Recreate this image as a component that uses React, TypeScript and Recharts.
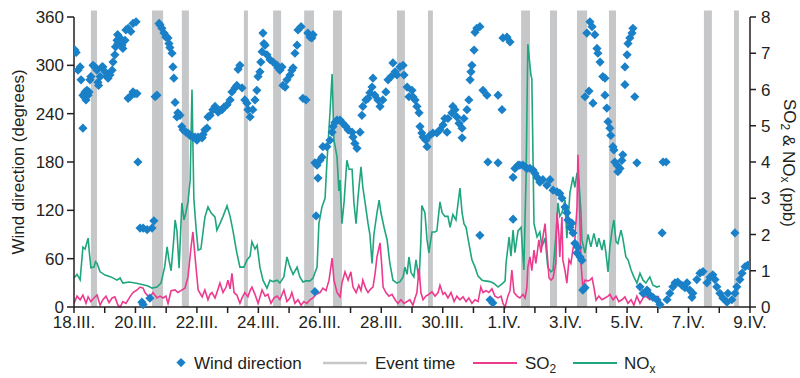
import React from 'react';
import { ComposedChart, Line, Scatter, XAxis, YAxis, ReferenceArea } from 'recharts';

// time axis: days since 18.III. 00:00
const dayTicks = [0, 1, 2, 3, 4, 5, 6, 7, 8, 9, 10, 11, 12, 13, 14, 15, 16, 17, 18, 19, 20, 21, 22];
const dayLabels = [
  '18.III.', '', '20.III.', '', '22.III.', '', '24.III.', '', '26.III.', '', '28.III.', '',
  '30.III.', '', '1.IV.', '', '3.IV.', '', '5.IV.', '', '7.IV.', '', '9.IV.',
];
const windTicks = [0, 60, 120, 180, 240, 300, 360];
const ppbTicks = [0, 1, 2, 3, 4, 5, 6, 7, 8];

// event time windows [start, end] in days
const eventTimes: [number, number][] = [
  [0.55, 0.75], [2.54, 2.9], [3.51, 3.74], [5.53, 5.66], [6.48, 6.74], [7.49, 7.81],
  [8.43, 8.72], [10.51, 10.77], [11.52, 11.68], [14.55, 14.84], [15.49, 15.72],
  [16.37, 16.7], [17.41, 17.64], [20.5, 20.76], [21.48, 21.64],
];

// wind direction [day, degrees]
const windDirection: [number, number][] = [
  [0.03, 319], [0.07, 316], [0.13, 294], [0.2, 298], [0.23, 282], [0.29, 263], [0.29, 222], [0.33, 261],
  [0.36, 267], [0.39, 257], [0.42, 269], [0.46, 263], [0.49, 267], [0.52, 282], [0.55, 286], [0.62, 300],
  [0.68, 298], [0.75, 294], [0.78, 279], [0.8, 275], [0.85, 286], [0.91, 298], [0.94, 298], [1.01, 292],
  [1.07, 286], [1.11, 284], [1.17, 288], [1.24, 294], [1.27, 304], [1.33, 313], [1.35, 323], [1.4, 331],
  [1.42, 338], [1.43, 327], [1.5, 334], [1.56, 325], [1.59, 321], [1.66, 331], [1.69, 344], [1.76, 346],
  [1.76, 259], [1.82, 261], [1.85, 342], [1.92, 352], [1.92, 267], [1.98, 265], [2.02, 354], [2.05, 265],
  [2.08, 180], [2.15, 98], [2.21, 6], [2.25, 98], [2.25, 3], [2.38, 96], [2.47, 11], [2.54, 98],
  [2.6, 107], [2.64, 261], [2.7, 263], [2.77, 352], [2.8, 350], [2.86, 346], [2.93, 340], [2.99, 335],
  [3.06, 334], [3.09, 327], [3.12, 322], [3.19, 315], [3.22, 298], [3.25, 284], [3.29, 254], [3.35, 236],
  [3.38, 241], [3.45, 238], [3.51, 224], [3.55, 220], [3.64, 217], [3.71, 216], [3.77, 213], [3.87, 211],
  [3.94, 211], [4.0, 207], [4.04, 211], [4.17, 210], [4.2, 214], [4.26, 220], [4.33, 222], [4.36, 236],
  [4.43, 238], [4.52, 245], [4.59, 249], [4.69, 242], [4.75, 244], [4.82, 245], [4.88, 248], [4.98, 251],
  [5.08, 257], [5.14, 267], [5.24, 272], [5.3, 275], [5.34, 295], [5.4, 300], [5.47, 272], [5.56, 257],
  [5.63, 253], [5.66, 245], [5.73, 236], [5.82, 245], [5.89, 257], [5.95, 269], [5.99, 286], [6.05, 292],
  [6.08, 304], [6.12, 317], [6.15, 340], [6.18, 327], [6.22, 325], [6.28, 313], [6.38, 307], [6.48, 304],
  [6.61, 300], [6.64, 297], [6.7, 294], [6.77, 298], [6.8, 275], [6.87, 273], [6.93, 282], [7.03, 288],
  [7.09, 294], [7.13, 297], [7.19, 315], [7.26, 325], [7.29, 344], [7.39, 348], [7.45, 259], [7.55, 257],
  [7.61, 340], [7.68, 335], [7.74, 334], [7.78, 338], [7.84, 179], [7.84, 19], [7.88, 113], [7.91, 176],
  [7.94, 160], [8.0, 182], [8.07, 186], [8.1, 199], [8.23, 199], [8.33, 207], [8.4, 217], [8.43, 224],
  [8.49, 229], [8.56, 232], [8.66, 232], [8.75, 228], [8.85, 224], [8.92, 220], [9.05, 217], [9.08, 211],
  [9.14, 203], [9.21, 197], [9.31, 217], [9.37, 238], [9.4, 249], [9.5, 257], [9.57, 259], [9.63, 266],
  [9.7, 273], [9.73, 284], [9.79, 263], [9.89, 257], [9.96, 249], [10.05, 257], [10.15, 267], [10.22, 282],
  [10.32, 286], [10.38, 303], [10.45, 292], [10.51, 288], [10.61, 298], [10.71, 300], [10.74, 288], [10.84, 273],
  [10.9, 261], [11.0, 269], [11.03, 261], [11.1, 257], [11.16, 249], [11.23, 241], [11.26, 224], [11.32, 216],
  [11.36, 211], [11.45, 207], [11.49, 199], [11.58, 213], [11.68, 216], [11.81, 216], [11.91, 220], [12.01, 226],
  [12.07, 234], [12.14, 217], [12.17, 234], [12.3, 241], [12.33, 249], [12.4, 245], [12.46, 236], [12.53, 228],
  [12.63, 222], [12.63, 210], [12.69, 234], [12.79, 245], [12.85, 257], [12.89, 282], [12.92, 292], [12.95, 300],
  [13.02, 319], [13.05, 341], [13.11, 346], [13.21, 348], [13.21, 89], [13.31, 269], [13.44, 263], [13.47, 180],
  [13.54, 9], [13.63, 5], [13.8, 263], [13.8, 179], [13.93, 245], [13.96, 334], [14.09, 335], [14.19, 329],
  [14.29, 109], [14.29, 161], [14.35, 172], [14.45, 176], [14.51, 176], [14.61, 176], [14.68, 174], [14.74, 172],
  [14.84, 172], [14.94, 170], [15.0, 166], [15.07, 161], [15.16, 155], [15.26, 158], [15.39, 151], [15.49, 158],
  [15.59, 145], [15.72, 143], [15.81, 141], [15.88, 135], [15.98, 124], [16.04, 117], [16.07, 108], [16.14, 99],
  [16.2, 104], [16.24, 92], [16.3, 79], [16.37, 67], [16.4, 74], [16.47, 62], [16.53, 58], [16.56, 21],
  [16.63, 24], [16.63, 261], [16.69, 340], [16.76, 268], [16.79, 354], [16.86, 348], [16.89, 253], [16.95, 338],
  [17.02, 321], [17.05, 315], [17.12, 304], [17.21, 286], [17.28, 284], [17.28, 263], [17.34, 247], [17.38, 230],
  [17.44, 222], [17.47, 213], [17.54, 199], [17.57, 195], [17.6, 180], [17.67, 176], [17.7, 168], [17.77, 172],
  [17.83, 182], [17.86, 189], [17.93, 298], [17.93, 276], [18.0, 313], [18.03, 327], [18.09, 334], [18.16, 340],
  [18.19, 346], [18.25, 261], [18.32, 179], [18.42, 25], [18.52, 17], [18.65, 21], [18.74, 15], [18.84, 12],
  [18.97, 9], [19.07, 3], [19.14, 92], [19.17, 180], [19.27, 180], [19.3, 9], [19.39, 17], [19.49, 25],
  [19.56, 30], [19.65, 31], [19.78, 27], [19.88, 24], [19.95, 30], [20.04, 21], [20.11, 12], [20.14, 17],
  [20.27, 34], [20.37, 42], [20.47, 44], [20.6, 30], [20.7, 37], [20.79, 40], [20.86, 34], [20.92, 25],
  [21.02, 17], [21.12, 11], [21.25, 6], [21.28, 17], [21.41, 9], [21.51, 17], [21.51, 92], [21.57, 25],
  [21.67, 34], [21.74, 42], [21.84, 50], [21.93, 52], [22.0, 50],
];

// SO2 [day, ppb]
const so2: [number, number][] = [
  [0, 0.1], [0.1, 0.3], [0.2, 0.2], [0.29, 0.33], [0.39, 0.1], [0.46, 0.28], [0.55, 0.15], [0.65, 0.25],
  [0.75, 0.33], [0.85, 0.05], [0.94, 0.2], [1.04, 0.3], [1.14, 0.12], [1.24, 0.25], [1.33, 0.28], [1.43, 0.05],
  [1.5, 0.0], [1.59, 0.15], [1.69, 0.1], [1.82, 0.28], [1.92, 0.4], [2.05, 0.47], [2.15, 0.55], [2.25, 0.52],
  [2.31, 0.4], [2.38, 0.33], [2.47, 0.28], [2.57, 0.4], [2.7, 0.25], [2.8, 0.3], [2.9, 0.25], [2.99, 0.3],
  [3.06, 0.1], [3.16, 0.45], [3.29, 0.47], [3.38, 0.4], [3.48, 0.45], [3.61, 0.52], [3.71, 0.83], [3.81, 1.66],
  [3.87, 2.07], [3.94, 1.38], [4.04, 0.47], [4.17, 0.28], [4.26, 0.47], [4.36, 0.2], [4.43, 0.35], [4.49, 0.4],
  [4.59, 0.25], [4.69, 0.5], [4.75, 0.66], [4.85, 0.4], [4.95, 0.55], [5.01, 0.74], [5.08, 0.5], [5.14, 0.93],
  [5.21, 0.4], [5.3, 0.33], [5.4, 0.1], [5.47, 0.25], [5.56, 0.4], [5.66, 0.28], [5.73, 0.45], [5.79, 0.55],
  [5.89, 0.35], [5.99, 0.1], [6.12, 0.47], [6.22, 0.3], [6.31, 0.35], [6.41, 0.1], [6.51, 0.25], [6.61, 0.3],
  [6.7, 0.2], [6.83, 0.47], [6.93, 0.15], [7.03, 0.25], [7.09, 0.4], [7.19, 0.1], [7.29, 0.2], [7.39, 0.05],
  [7.48, 0.15], [7.58, 0.1], [7.68, 0.2], [7.78, 0.25], [7.88, 0.35], [8.01, 0.4], [8.1, 0.52], [8.2, 0.45],
  [8.3, 0.74], [8.4, 1.35], [8.46, 0.74], [8.56, 0.4], [8.66, 0.28], [8.72, 0.66], [8.82, 0.97], [8.92, 0.74],
  [9.01, 0.97], [9.08, 0.55], [9.18, 0.4], [9.27, 0.6], [9.34, 0.45], [9.4, 0.74], [9.5, 0.5], [9.57, 0.4],
  [9.66, 0.5], [9.73, 0.55], [9.8, 0.93], [9.86, 1.38], [9.96, 1.77], [10.02, 1.1], [10.06, 0.55], [10.15, 0.4],
  [10.25, 0.3], [10.35, 0.35], [10.45, 0.2], [10.54, 0.1], [10.64, 0.2], [10.74, 0.1], [10.84, 0.15], [10.93, 0.2],
  [11.03, 0.05], [11.1, 0.25], [11.16, 0.4], [11.23, 1.07], [11.29, 0.4], [11.36, 0.2], [11.45, 0.3], [11.55, 0.35],
  [11.65, 0.42], [11.75, 0.3], [11.85, 0.4], [11.91, 0.6], [12.01, 0.35], [12.07, 0.4], [12.17, 0.25], [12.27, 0.4],
  [12.37, 0.15], [12.46, 0.3], [12.56, 0.2], [12.66, 0.28], [12.76, 0.15], [12.85, 0.25], [12.95, 0.1], [13.05, 0.2],
  [13.15, 0.15], [13.24, 0.55], [13.31, 0.4], [13.41, 0.45], [13.5, 0.4], [13.6, 0.5], [13.7, 0.3], [13.8, 0.25],
  [13.9, 0.3], [13.96, 0.1], [14.03, 0.0], [14.12, 0.3], [14.19, 0.45], [14.25, 1.02], [14.32, 0.4], [14.42, 0.3],
  [14.51, 0.25], [14.61, 0.35], [14.68, 0.25], [14.74, 0.55], [14.77, 1.1], [14.84, 1.38], [14.9, 1.0], [14.97, 1.57],
  [15.03, 1.2], [15.13, 1.85], [15.2, 1.5], [15.26, 1.93], [15.33, 2.3], [15.39, 1.6], [15.46, 0.8], [15.52, 0.74],
  [15.59, 0.8], [15.68, 1.2], [15.72, 2.6], [15.78, 2.0], [15.81, 1.38], [15.88, 2.48], [15.91, 1.3], [15.98, 1.0],
  [16.04, 0.66], [16.11, 1.3], [16.17, 1.2], [16.24, 1.6], [16.3, 1.85], [16.37, 2.76], [16.4, 4.2], [16.43, 3.5],
  [16.5, 1.2], [16.56, 0.55], [16.63, 0.74], [16.73, 0.72], [16.79, 0.74], [16.86, 0.8], [16.92, 0.55], [16.99, 0.19],
  [17.08, 0.3], [17.18, 0.2], [17.28, 0.25], [17.38, 0.3], [17.44, 0.35], [17.54, 0.2], [17.64, 0.3], [17.73, 0.15],
  [17.83, 0.2], [17.93, 0.28], [18.03, 0.1], [18.13, 0.2], [18.22, 0.05], [18.32, 0.3], [18.42, 0.1], [18.52, 0.25],
  [18.61, 0.3], [18.74, 0.2], [18.84, 0.28], [18.94, 0.25], [19.04, 0.3],
];

// NOx [day, ppb]
const nox: [number, number][] = [
  [0, 0.8], [0.1, 0.9], [0.2, 0.75], [0.29, 1.65], [0.36, 1.6], [0.46, 1.9], [0.5, 1.5], [0.55, 1.08],
  [0.65, 1.1], [0.7, 1.25], [0.75, 1.2], [0.85, 0.97], [1.01, 0.88], [1.2, 0.83], [1.4, 0.74], [1.5, 0.8],
  [1.59, 0.66], [1.79, 0.69], [1.99, 0.66], [2.18, 0.63], [2.41, 0.58], [2.54, 0.52], [2.7, 0.55], [2.83, 0.66],
  [2.95, 1.1], [3.03, 1.66], [3.09, 1.3], [3.16, 1.0], [3.25, 1.9], [3.29, 2.4], [3.35, 2.1], [3.42, 1.07],
  [3.51, 2.87], [3.58, 2.4], [3.64, 2.6], [3.71, 2.9], [3.78, 3.5], [3.84, 6.0], [3.9, 3.0], [3.97, 2.2],
  [4.04, 1.57], [4.13, 1.6], [4.26, 2.48], [4.36, 2.76], [4.46, 2.6], [4.59, 2.48], [4.65, 2.12], [4.75, 2.3],
  [4.85, 2.5], [4.98, 2.79], [5.08, 2.5], [5.17, 2.12], [5.3, 1.49], [5.4, 1.1], [5.53, 1.1], [5.63, 1.3],
  [5.73, 1.4], [5.79, 1.8], [5.89, 1.6], [5.96, 1.7], [6.05, 1.1], [6.15, 0.74], [6.28, 0.52], [6.38, 0.74],
  [6.48, 0.7], [6.61, 0.74], [6.7, 0.66], [6.83, 0.83], [6.93, 1.38], [7.03, 1.1], [7.13, 0.9], [7.26, 1.1],
  [7.35, 0.83], [7.45, 0.69], [7.55, 0.72], [7.68, 0.72], [7.78, 0.8], [7.91, 1.1], [7.97, 2.3], [8.07, 2.76],
  [8.17, 3.0], [8.23, 3.97], [8.33, 5.35], [8.4, 6.43], [8.46, 4.6], [8.56, 4.14], [8.62, 3.2], [8.66, 3.5],
  [8.72, 2.3], [8.79, 2.9], [8.88, 4.05], [8.95, 3.8], [9.05, 3.8], [9.11, 2.87], [9.18, 2.3], [9.24, 3.0],
  [9.34, 3.87], [9.4, 3.3], [9.47, 2.9], [9.57, 2.3], [9.63, 2.0], [9.7, 1.2], [9.76, 2.0], [9.86, 2.6],
  [9.93, 2.95], [9.99, 2.6], [10.09, 2.2], [10.19, 1.85], [10.28, 1.2], [10.38, 0.74], [10.51, 0.66], [10.61, 0.7],
  [10.71, 0.83], [10.77, 1.1], [10.84, 0.9], [10.9, 1.38], [10.97, 0.95], [11.06, 0.83], [11.13, 1.3], [11.23, 0.74],
  [11.29, 1.85], [11.32, 2.8], [11.42, 2.6], [11.49, 1.85], [11.55, 1.49], [11.65, 2.07], [11.75, 2.07], [11.81, 2.1],
  [11.91, 2.9], [11.98, 2.6], [12.07, 2.5], [12.17, 2.5], [12.24, 2.2], [12.33, 2.55], [12.43, 2.4], [12.56, 3.28],
  [12.63, 2.6], [12.69, 2.3], [12.76, 2.2], [12.82, 1.9], [12.95, 1.3], [13.05, 1.1], [13.15, 0.85], [13.28, 0.74],
  [13.37, 0.72], [13.54, 0.7], [13.67, 0.65], [13.8, 0.55], [13.96, 0.66], [14.03, 0.72], [14.06, 1.2], [14.16, 1.93],
  [14.22, 1.4], [14.29, 2.12], [14.35, 1.5], [14.45, 2.1], [14.55, 2.2], [14.64, 1.02], [14.71, 3.5], [14.77, 7.25],
  [14.87, 6.4], [14.9, 6.3], [14.97, 2.3], [15.07, 1.93], [15.16, 2.07], [15.23, 1.66], [15.33, 1.9], [15.42, 1.1],
  [15.52, 0.97], [15.59, 1.02], [15.68, 1.93], [15.75, 2.87], [15.81, 2.5], [15.88, 2.6], [15.98, 2.95], [16.04, 1.9],
  [16.14, 3.15], [16.24, 3.59], [16.3, 3.3], [16.37, 3.7], [16.43, 3.5], [16.5, 2.6], [16.53, 1.85], [16.63, 1.49],
  [16.73, 2.0], [16.82, 1.66], [16.92, 2.03], [17.02, 1.66], [17.08, 1.9], [17.18, 1.57], [17.25, 1.85], [17.31, 1.5],
  [17.38, 0.97], [17.44, 1.66], [17.51, 2.12], [17.57, 2.4], [17.64, 1.8], [17.7, 1.75], [17.8, 2.12], [17.86, 1.9],
  [17.96, 1.38], [18.03, 1.3], [18.13, 1.02], [18.22, 0.83], [18.32, 0.66], [18.42, 0.93], [18.52, 0.74], [18.61, 0.66],
  [18.74, 0.83], [18.84, 0.6], [18.97, 0.55], [19.07, 0.58],
];

const BLUE = '#1a80c7';
const PINK = '#ec3a8f';
const GREEN = '#1fa67f';
const GREY = '#c6c7c9';
const INK = '#231f20';
const FONT = '"Liberation Sans", Arial, Helvetica, sans-serif';

const windData = windDirection.map(([t, deg]) => ({ t, deg }));
const so2Data = so2.map(([t, v]) => ({ t, v }));
const noxData = nox.map(([t, v]) => ({ t, v }));

const Diamond = (props: any) => {
  const { cx, cy } = props;
  if (cx == null || cy == null) return null;
  const r = 4.6;
  return <polygon points={`${cx},${cy - r} ${cx + r},${cy} ${cx},${cy + r} ${cx - r},${cy}`} fill={BLUE} />;
};

const LeftTitle = () => (
  <text x={18} y={162} transform="rotate(-90, 18, 162)" textAnchor="middle" dominantBaseline="central"
    fontSize={17} fill={INK} fontFamily={FONT}>
    Wind direction (degrees)
  </text>
);

const RightTitle = () => (
  <text x={789} y={163} transform="rotate(90, 789, 163)" textAnchor="middle" dominantBaseline="central"
    fontSize={17} fill={INK} fontFamily={FONT}>
    SO<tspan fontSize={12} dy={4}>2</tspan>
    <tspan dy={-4}> &amp; NO</tspan>
    <tspan fontSize={12} dy={4}>x</tspan>
    <tspan dy={-4}> (ppb)</tspan>
  </text>
);

const ChartLegend = () => (
  <svg width={800} height={38} style={{ position: 'absolute', left: 0, top: 344 }} fontFamily={FONT}>
    <polygon points="181,14 185.6,18.6 181,23.2 176.4,18.6" fill={BLUE} />
    <text x={194} y={25} fontSize={17} fill={INK}>Wind direction</text>
    <line x1={323} x2={367} y1={19} y2={19} stroke={GREY} strokeWidth={2.5} />
    <text x={375} y={25} fontSize={17} fill={INK}>Event time</text>
    <line x1={473} x2={517} y1={19} y2={19} stroke={PINK} strokeWidth={2} />
    <text x={525} y={25} fontSize={17} fill={INK}>
      SO<tspan fontSize={12} dy={4}>2</tspan>
    </text>
    <line x1={573} x2={617} y1={19} y2={19} stroke={GREEN} strokeWidth={2} />
    <text x={624} y={25} fontSize={17} fill={INK}>
      NO<tspan fontSize={12} dy={4}>x</tspan>
    </text>
  </svg>
);

export default function App() {
  const tickStyle = { fontSize: 17, fill: INK, fontFamily: FONT };
  const axisLine = { stroke: INK, strokeWidth: 1.5 };
  return (
    <div style={{ position: 'absolute', left: 0, top: 0, width: 800, height: 378, background: '#fff' }}>
      <ComposedChart width={800} height={340} margin={{ top: 17, right: 0, bottom: 0, left: 0 }}>
        <XAxis
          type="number"
          dataKey="t"
          domain={[0, 22]}
          ticks={dayTicks}
          interval={0}
          tickFormatter={(v: number) => dayLabels[v] ?? ''}
          tick={tickStyle}
          tickSize={6}
          tickMargin={3}
          tickLine={axisLine}
          axisLine={axisLine}
          height={33}
          allowDataOverflow
        />
        <YAxis
          yAxisId="left"
          domain={[0, 360]}
          ticks={windTicks}
          interval={0}
          tick={tickStyle}
          tickSize={7}
          tickMargin={3}
          tickLine={axisLine}
          axisLine={axisLine}
          width={74}
          label={<LeftTitle />}
        />
        <YAxis
          yAxisId="right"
          orientation="right"
          domain={[0, 8]}
          ticks={ppbTicks}
          interval={0}
          tick={tickStyle}
          tickSize={6}
          tickMargin={5}
          tickLine={axisLine}
          axisLine={axisLine}
          width={50}
          label={<RightTitle />}
        />
        {eventTimes.map(([a, b], i) => (
          <ReferenceArea
            key={`ev-${i}`}
            yAxisId="left"
            x1={a}
            x2={b}
            y1={0}
            y2={368}
            ifOverflow="visible"
            fill={GREY}
            fillOpacity={1}
            stroke="none"
          />
        ))}
        <Line
          yAxisId="right"
          data={noxData}
          dataKey="v"
          type="linear"
          stroke={GREEN}
          strokeWidth={1.6}
          dot={false}
          activeDot={false}
          isAnimationActive={false}
        />
        <Line
          yAxisId="right"
          data={so2Data}
          dataKey="v"
          type="linear"
          stroke={PINK}
          strokeWidth={1.6}
          dot={false}
          activeDot={false}
          isAnimationActive={false}
        />
        <Scatter
          yAxisId="left"
          data={windData}
          dataKey="deg"
          shape={<Diamond />}
          isAnimationActive={false}
        />
      </ComposedChart>
      <ChartLegend />
    </div>
  );
}
